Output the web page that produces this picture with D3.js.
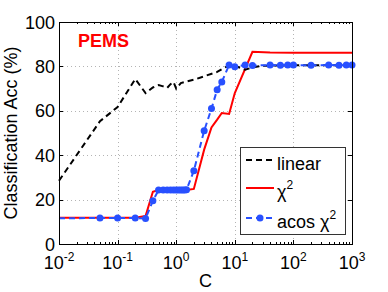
<!DOCTYPE html>
<html>
<head>
<meta charset="utf-8">
<style>
  body { margin: 0; background: #fff; }
  svg { display: block; font-family: "Liberation Sans", Arial, sans-serif; }
</style>
</head>
<body>
<svg id="chart" width="388" height="292"></svg>
<script src="https://cdn.jsdelivr.net/npm/d3@7"></script>
<script>
// values (C, accuracy %)
let linearC   = [0.01, 0.05, 0.1, 0.2, 0.3, 0.4, 0.5, 0.6, 0.7, 0.8, 0.9, 1, 1.2, 2, 5, 7, 8, 10, 15, 20, 30, 100, 1000];
let linearAcc = [28.5, 55.3, 61.7, 74.3, 68, 70.5, 71.6, 71, 70.3, 72, 73, 70, 72.5, 74, 77.5, 79.7, 80.5, 80.3, 78.5, 79.5, 80.3, 80.5, 80.5];

let chi2C   = [0.01, 0.05, 0.1, 0.2, 0.3, 0.4, 0.5, 1, 1.5, 2, 3, 4, 5, 6, 8, 10, 20, 40, 100, 1000];
let chi2Acc = [11.8, 11.8, 11.8, 11.8, 12.6, 23.5, 24.3, 24.3, 24.3, 24.8, 42.5, 52.5, 56, 59, 58.6, 68, 86.6, 86.3, 86.2, 86.2];

let acosC   = [0.01, 0.05, 0.1, 0.2, 0.3, 0.4, 0.5, 0.6, 0.7, 0.8, 0.9, 1, 1.1, 1.2, 1.3, 1.4, 1.5,
               2, 3, 4, 5, 6, 8, 10, 15, 20, 40, 60, 80, 100, 200, 400, 600, 800, 1000];
let acosAcc = [11.6, 11.7, 11.7, 11.7, 11.5, 19.5, 24.3, 24.3, 24.3, 24.3, 24.3, 24.3, 24.3, 24.3, 24.3, 24.3, 24.4,
               33, 51, 61, 69.5, 73, 80.6, 79.8, 80.6, 80.4, 80.6, 80.5, 80.6, 80.6, 80.5, 80.6, 80.5, 80.6, 80.6];

let xTicks = [0.01, 0.1, 1, 10, 100, 1000];
let yTicks = [0, 20, 40, 60, 80, 100];

let seriesNames = ["linear", "\u03c7", "acos \u03c7"];
let colors = { linear: "#000", chi2: "#ff0000", acos: "#2850ff" };

let svg = d3.select("#chart");
let pLeft = 59, pRight = 352, pTop = 22, pBottom = 244;

let x = d3.scaleLog().domain([0.01, 1000]).range([pLeft, pRight]);
let y = d3.scaleLinear().domain([0, 100]).range([pBottom, pTop]);

// grid
let minorX = [];
for (let e = -2; e < 3; e++) for (let k = 2; k < 10; k++) minorX.push(k * Math.pow(10, e));

let grid = svg.append("g");
grid.selectAll("line.gx").data(xTicks.slice(1, -1)).enter().append("line")
    .attr("x1", d => Math.round(x(d)) + 0.5).attr("x2", d => Math.round(x(d)) + 0.5)
    .attr("y1", pTop).attr("y2", pBottom)
    .attr("stroke", "#b4b4b4").attr("stroke-dasharray", "1,3");
grid.selectAll("line.gy").data(yTicks.slice(1, -1)).enter().append("line")
    .attr("y1", d => Math.round(y(d)) + 0.5).attr("y2", d => Math.round(y(d)) + 0.5)
    .attr("x1", pLeft).attr("x2", pRight)
    .attr("stroke", "#b4b4b4").attr("stroke-dasharray", "1,3");

// ticks inside the box
let ticks = svg.append("g").attr("stroke", "#000");
xTicks.forEach(t => {
    let px = Math.round(x(t)) + 0.5;
    ticks.append("line").attr("x1", px).attr("x2", px).attr("y1", pBottom).attr("y2", pBottom - 4);
    ticks.append("line").attr("x1", px).attr("x2", px).attr("y1", pTop).attr("y2", pTop + 4);
});
minorX.forEach(t => {
    let px = Math.round(x(t)) + 0.5;
    ticks.append("line").attr("x1", px).attr("x2", px).attr("y1", pBottom).attr("y2", pBottom - 2);
    ticks.append("line").attr("x1", px).attr("x2", px).attr("y1", pTop).attr("y2", pTop + 2);
});
yTicks.forEach(t => {
    let py = Math.round(y(t)) + 0.5;
    ticks.append("line").attr("y1", py).attr("y2", py).attr("x1", pLeft).attr("x2", pLeft + 4);
    ticks.append("line").attr("y1", py).attr("y2", py).attr("x1", pRight).attr("x2", pRight - 4);
});

// tick labels
svg.append("g").selectAll("text").data(yTicks).enter().append("text")
    .attr("x", 55).attr("y", d => y(d) + 6.5)
    .attr("text-anchor", "end").attr("font-size", 18)
    .text(d => d);

let xl = svg.append("g").selectAll("text").data(xTicks).enter().append("text")
    .attr("x", d => x(d)).attr("y", 269)
    .attr("text-anchor", "middle").attr("font-size", 18);
xl.append("tspan").text("10");
xl.append("tspan").attr("font-size", 12).attr("dy", -8).text(d => Math.round(Math.log10(d)));

// axis titles
svg.append("text").attr("x", (pLeft + pRight) / 2).attr("y", 287)
    .attr("text-anchor", "middle").attr("font-size", 18).text("C");
svg.append("text").attr("transform", "translate(17," + (pTop + pBottom) / 2 + ") rotate(-90)")
    .attr("text-anchor", "middle").attr("font-size", 18).text("Classification Acc (%)");

// series
let line = d3.line().x(d => x(d.c)).y(d => y(d.v));
let zip = (cs, vs) => cs.map((c, i) => ({ c: c, v: vs[i] }));

let linearData = zip(linearC, linearAcc);
let chi2Data = zip(chi2C, chi2Acc);
let acosData = zip(acosC, acosAcc);

let plot = svg.append("g");
plot.append("path").datum(chi2Data).attr("d", line)
    .attr("fill", "none").attr("stroke", colors.chi2).attr("stroke-width", 2);
plot.append("path").datum(linearData).attr("d", line)
    .attr("fill", "none").attr("stroke", colors.linear).attr("stroke-width", 2)
    .attr("stroke-dasharray", "6,4");
plot.append("path").datum(acosData).attr("d", line)
    .attr("fill", "none").attr("stroke", colors.acos).attr("stroke-width", 2)
    .attr("stroke-dasharray", "6,4");
plot.selectAll("circle").data(acosData.filter(d => d.c > x.domain()[0])).enter().append("circle")
    .attr("cx", d => x(d.c)).attr("cy", d => y(d.v)).attr("r", 3.5)
    .attr("fill", colors.acos);

// box
svg.append("rect").attr("x", pLeft + 0.5).attr("y", pTop + 0.5)
    .attr("width", pRight - pLeft).attr("height", pBottom - pTop)
    .attr("fill", "none").attr("stroke", "#000");

svg.append("text").attr("x", 78).attr("y", 47).attr("font-size", 18)
    .attr("font-weight", "bold").attr("fill", "#ff0000").text("PEMS");

// legend
let lg = svg.append("g");
lg.append("rect").attr("x", 240.5).attr("y", 147.5).attr("width", 105).attr("height", 87)
    .attr("fill", "#fff").attr("stroke", "#333");
let rows = [
    { name: seriesNames[0], sup: false, ly: 160, ty: 170, color: colors.linear, dash: "6,4", dot: false },
    { name: seriesNames[1], sup: true, ly: 188, ty: 198, color: colors.chi2, dash: null, dot: false },
    { name: seriesNames[2], sup: true, ly: 218, ty: 228, color: colors.acos, dash: "6,4", dot: true }
];
rows.forEach(r => {
    lg.append("line").attr("x1", 246).attr("x2", 274).attr("y1", r.ly).attr("y2", r.ly)
        .attr("stroke", r.color).attr("stroke-width", 2)
        .attr("stroke-dasharray", r.dash);
    if (r.dot) lg.append("circle").attr("cx", 260).attr("cy", r.ly).attr("r", 3.5).attr("fill", r.color);
    let t = lg.append("text").attr("x", 277).attr("y", r.ty).attr("font-size", 18);
    t.append("tspan").text(r.name);
    if (r.sup) t.append("tspan").attr("font-size", 12).attr("dy", -9).text("2");
});
</script>
</body>
</html>
